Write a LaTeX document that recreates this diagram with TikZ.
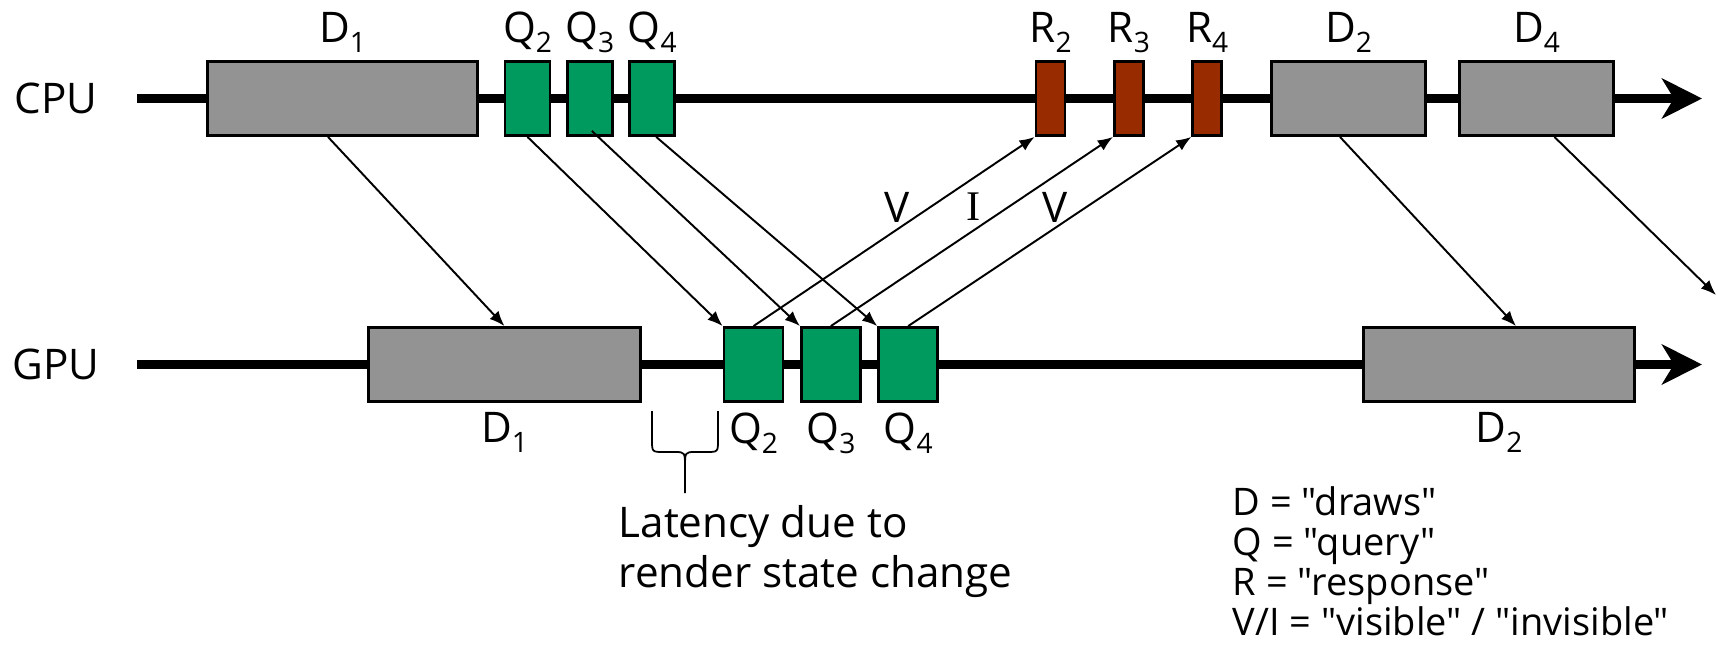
\documentclass[tikz,border=0pt]{standalone}
\usepackage{fontspec}
\setmainfont{Open Sans}[Ligatures=TeXOff]
\newfontfamily\serifI{Liberation Serif}
\usepackage{xcolor}
\usepackage{tikz}
\usetikzlibrary{arrows.meta, positioning}

\definecolor{drawgray}{RGB}{147,147,147}
\definecolor{querygreen}{RGB}{0,154,94}
\definecolor{resprust}{RGB}{153,43,0}
\newcommand{\sub}[1]{\raisebox{-2.8pt}{\fontsize{8}{8}\selectfont #1}}

\begin{document}
\begin{tikzpicture}[x=0.01cm, y=-0.01cm,
    every node/.style={font=\fontsize{12}{14}\selectfont},
    timeline/.style={line width=2.3pt, -{Stealth[length=11.4pt, width=11.4pt, inset=3.4pt]}},
    box/.style={draw, line width=0.8pt, inner sep=0pt, minimum height=0.74cm},
    dbox/.style={box, fill=drawgray},
    qbox/.style={box, fill=querygreen},
    rbox/.style={box, fill=resprust, minimum width=0.29cm},
    msg/.style={line width=0.55pt, -{Latex[length=4.3pt, width=3.4pt]}},
    lbl/.style={inner sep=0pt}]
    \useasboundingbox (0,0) rectangle (1718,660);

    % 1. Time lines
    \node (cpu) at (56,98.5) {CPU};
    \node (gpu) at (56,364.5) {GPU};
    \coordinate (cpuStart) at (137,98.5);
    \coordinate (cpuEnd) at (1702,98.5);
    \coordinate (gpuStart) at (137,364.5);
    \coordinate (gpuEnd) at (1702,364.5);
    \draw[timeline] (cpuStart) -- (cpuEnd);
    \draw[timeline] (gpuStart) -- (gpuEnd);

    % 2. CPU side
    \node[dbox, minimum width=2.70cm] (cD1) at (342.5,98.5) {};
    \node[qbox, minimum width=0.45cm] (cQ2) at (527.5,98.5) {};
    \node[qbox, minimum width=0.45cm, right=0.145cm of cQ2] (cQ3) {};
    \node[qbox, minimum width=0.45cm, right=0.145cm of cQ3] (cQ4) {};
    \node[rbox] (cR2) at (1050.5,98.5) {};
    \node[rbox, right=0.465cm of cR2] (cR3) {};
    \node[rbox, right=0.465cm of cR3] (cR4) {};
    \node[dbox, minimum width=1.54cm] (cD2) at (1348.5,98.5) {};
    \node[dbox, minimum width=1.54cm, right=0.31cm of cD2] (cD4) {};

    \node[lbl, above=0.07cm of cD1] (tD1) {D\sub{1}};
    \node[lbl, above=0.07cm of cQ2] (tQ2) {Q\sub{2}};
    \node[lbl, above=0.07cm of cQ3] (tQ3) {Q\sub{3}};
    \node[lbl, above=0.07cm of cQ4] (tQ4) {Q\sub{4}};
    \node[lbl, above=0.07cm of cR2] (tR2) {R\sub{2}};
    \node[lbl, above=0.07cm of cR3] (tR3) {R\sub{3}};
    \node[lbl, above=0.07cm of cR4] (tR4) {R\sub{4}};
    \node[lbl, above=0.07cm of cD2] (tD2) {D\sub{2}};
    \node[lbl, above=0.07cm of cD4] (tD4) {D\sub{4}};

    % 3. GPU side
    \node[dbox, minimum width=2.72cm] (gD1) at (504.5,364.5) {};
    \node[qbox, minimum width=0.59cm] (gQ2) at (753.5,364.5) {};
    \node[qbox, minimum width=0.59cm, right=0.155cm of gQ2] (gQ3) {};
    \node[qbox, minimum width=0.59cm, right=0.155cm of gQ3] (gQ4) {};
    \node[dbox, minimum width=2.71cm] (gD2) at (1499,364.5) {};

    \node[lbl, below=0.09cm of gD1] (bD1) {D\sub{1}};
    \node[lbl, below=0.09cm of gQ2] (bQ2) {Q\sub{2}};
    \node[lbl, below=0.09cm of gQ3] (bQ3) {Q\sub{3}};
    \node[lbl, below=0.09cm of gQ4] (bQ4) {Q\sub{4}};
    \node[lbl, below=0.09cm of gD2] (bD2) {D\sub{2}};

    % 4. Commands sent to the GPU
    \coordinate (offpage) at (1716,295);
    \draw[msg] ([xshift=-0.145cm]cD1.south) -- (gD1.north);
    \draw[msg] (cQ2.south) -- (gQ2.north west);
    \draw[msg] ([xshift=0.02cm, yshift=0.06cm]cQ3.south) -- (gQ3.north west);
    \draw[msg] ([xshift=0.04cm]cQ4.south) -- (gQ4.north west);
    \draw[msg] ([xshift=-0.085cm]cD2.south) -- ([xshift=0.17cm]gD2.north);
    \draw[msg] ([xshift=0.18cm]cD4.south) -- (offpage);

    % 5. Query results back to the CPU
    \draw[msg] (gQ2.north) -- (cR2.south west);
    \draw[msg] (gQ3.north) -- (cR3.south west);
    \draw[msg] (gQ4.north) -- (cR4.south west);
    \node (vis2) at (897,207) {V};
    \node (inv3) at (974,207) {\serifI I};
    \node (vis4) at (1055,207) {V};

    % 6. Latency brace and legend
    \draw[line width=0.5pt] (652,411) -- (652,440) .. controls (652,452) .. (664,452)
        -- (675,452) .. controls (685,452) .. (685,468) -- (685,493);
    \draw[line width=0.5pt] (718,411) -- (718,440) .. controls (718,452) .. (706,452)
        -- (695,452) .. controls (685,452) .. (685,468);
    \node[anchor=north west, align=left, inner sep=0pt,
        font=\fontsize{12}{14.2}\selectfont] (latency) at (618,505)
        {Latency due to\\render state change};
    \node[anchor=north west, align=left, inner sep=0pt,
        font=\fontsize{10.8}{11.4}\selectfont] (legend) at (1232,486)
        {D = "draws"\\Q = "query"\\R = "response"\\V/I = "visible" / "invisible"};
\end{tikzpicture}
\end{document}
